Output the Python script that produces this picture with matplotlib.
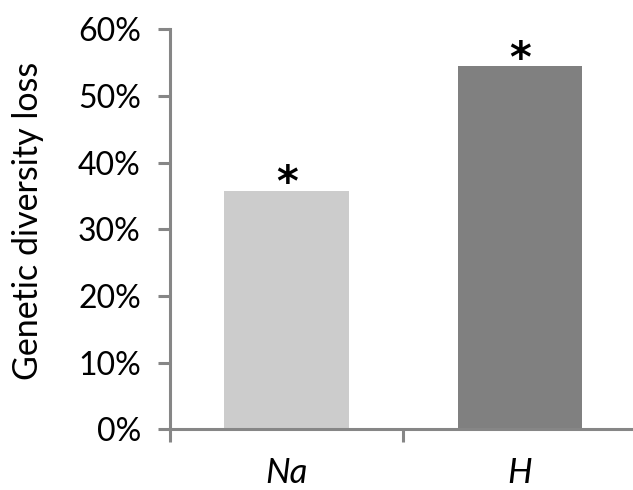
import matplotlib
matplotlib.use("Agg")
import matplotlib.pyplot as plt
from matplotlib.ticker import PercentFormatter

categories = ["Na", "H"]
loss = [35.8, 54.5]
bar_colors = ["#cccccc", "#808080"]
marks = ["*", "*"]
yticks = [0, 10, 20, 30, 40, 50, 60]

plt.rcParams['font.family'] = ['Lato', 'DejaVu Sans']
axis_grey = "#868686"

fig = plt.figure(figsize=(6.33, 4.9), dpi=100)
ax = fig.add_axes([170 / 633, 60.7 / 490, 466.7 / 633, 400 / 490])

x = range(len(categories))
ax.bar(x, loss, width=0.533, color=bar_colors)
for xi, v, m in zip(x, loss, marks):
    ax.text(xi, v - 2.2, m, ha="center", va="bottom", fontsize=30,
            fontweight="bold", family="DejaVu Sans")

ax.set_xlim(-0.5, 1.5)
ax.set_ylim(0, 60)
ax.set_yticks(yticks)
ax.yaxis.set_major_formatter(PercentFormatter(decimals=0))
ax.set_xticks([-0.5, 0.5, 1.5])
ax.set_xticklabels([])
ax.set_xticks(list(x), minor=True)
ax.set_xticklabels(categories, minor=True, fontsize=25, style="italic")
ax.tick_params(axis="x", which="minor", length=0, pad=20)
ax.tick_params(axis="x", which="major", length=9, width=2.2, color=axis_grey)
ax.tick_params(axis="y", length=9, width=2.2, color=axis_grey, labelsize=23, pad=12)

for s in ["top", "right"]:
    ax.spines[s].set_visible(False)
for s in ["left", "bottom"]:
    ax.spines[s].set_color(axis_grey)
    ax.spines[s].set_linewidth(2.2)

ax.set_ylabel("Genetic diversity loss", fontsize=24.5)
ax.yaxis.set_label_coords(-0.27, 0.52)

fig.savefig("out.png", dpi=100)
